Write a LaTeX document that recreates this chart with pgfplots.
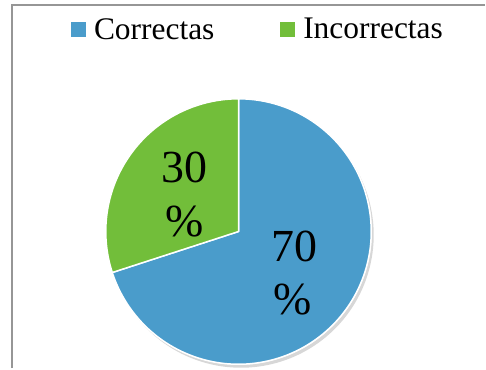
\documentclass[border=0pt]{standalone}
\usepackage{pgfplots}
\usepackage{pgfplotstable}
\pgfplotsset{compat=1.18}
\usepackage{fontspec}
\setmainfont{Liberation Serif}
\definecolor{pieblue}{RGB}{74,156,203}
\definecolor{piegreen}{RGB}{114,190,58}
\definecolor{framegray}{RGB}{150,150,150}
\pgfplotstableread{
label value
Correctas 70
Incorrectas 30
}\piedata
\begin{document}
\begin{tikzpicture}
\pgfplotstablegetelem{0}{value}\of\piedata \edef\vA{\pgfplotsretval}
\pgfplotstablegetelem{1}{value}\of\piedata \edef\vB{\pgfplotsretval}
\pgfmathsetmacro\aStart{90}
\pgfmathsetmacro\aMid{90-3.6*\vA}
\pgfmathsetmacro\aEnd{\aMid-3.6*\vB}
\def\cx{239}\def\cy{137}\def\R{133}
\begin{axis}[
  scale only axis, width=486bp, height=369bp,
  xmin=0, xmax=486, ymin=0, ymax=369,
  hide axis, clip=false,
  legend columns=2,
  legend style={at={(axis cs:71,339.5)}, anchor=west, draw=none, fill=none,
    inner sep=0pt, font=\fontsize{31.5bp}{36bp}\selectfont,
    nodes={inner xsep=8bp, inner ysep=0pt},
    /tikz/every even column/.append style={column sep=58bp}},
  legend image code/.code={\fill[#1, draw=none] (0bp,-7.5bp) rectangle (15bp,7.5bp);},
]
% page extent
\path (axis cs:0,0) rectangle (axis cs:486,369);
% frame
\draw[framegray, line width=2bp] (axis cs:12,0) -- (axis cs:12,363.5) -- (axis cs:486,363.5);
% shadow and rim
\addplot[fill=black!35, draw=none, opacity=0.45, domain=0:360, samples=180, forget plot]
  ({\cx+2.5+\R*cos(x)},{\cy-3.5+\R*sin(x)});
\addplot[fill=white, draw=none, domain=0:360, samples=180, forget plot]
  ({\cx+\R*cos(x)+0.5},{\cy+\R*sin(x)-0.5});
% slices
\addplot[fill=pieblue, draw=white, line width=1.5bp, line join=round, domain=\aMid:\aStart, samples=150]
  ({\cx+\R*cos(x)},{\cy+\R*sin(x)}) -- (axis cs:\cx,\cy) -- cycle;
\addlegendentry{Correctas}
\addplot[fill=piegreen, draw=white, line width=1.5bp, line join=round, domain=\aEnd:\aMid, samples=80]
  ({\cx+\R*cos(x)},{\cy+\R*sin(x)}) -- (axis cs:\cx,\cy) -- cycle;
\addlegendentry{Incorrectas}
% labels
\node[anchor=base, font=\fontsize{46bp}{55bp}\selectfont, inner sep=0pt] at (axis cs:185,186) {30};
\node[anchor=base, font=\fontsize{46bp}{55bp}\selectfont, inner sep=0pt] at (axis cs:185,132) {\%};
\node[anchor=base, font=\fontsize{46bp}{55bp}\selectfont, inner sep=0pt] at (axis cs:295,107) {70};
\node[anchor=base, font=\fontsize{46bp}{55bp}\selectfont, inner sep=0pt] at (axis cs:293,54) {\%};
\end{axis}
\end{tikzpicture}
\end{document}
